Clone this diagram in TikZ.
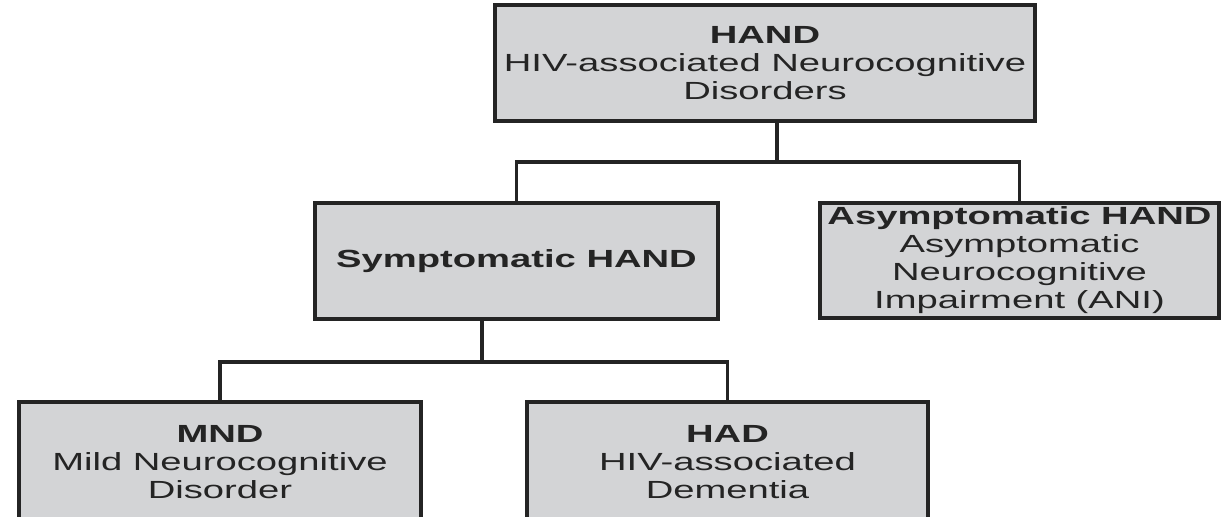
\documentclass[tikz,border=0pt]{standalone}
\usepackage{fontspec}
\setmainfont{Liberation Sans}[FakeStretch=1.54]
\usepackage{xcolor}
\definecolor{boxgray}{RGB}{211,212,214}
\definecolor{inkgray}{RGB}{36,36,36}

\begin{document}
\begin{tikzpicture}[
  x=0.5pt, y=-0.5pt,
  box/.style={draw=inkgray, line width=1.6pt, fill=boxgray, align=center, inner sep=0pt,
              text=inkgray, font=\fontsize{12.4}{14}\selectfont},
  link/.style={draw=inkgray, line width=1.6pt}
]
  \path[use as bounding box, clip] (0,0) rectangle (1229,516);

  \node[box, minimum width=270pt, minimum height=58pt] (hand) at (765,63)
    {\textbf{HAND}\\HIV-associated Neurocognitive\\Disorders};
  \node[box, minimum width=201.5pt, minimum height=58pt] (symp) at (516.5,261)
    {\textbf{Symptomatic HAND}};
  \node[box, minimum width=199.5pt, minimum height=57.5pt] (asym) at (1019.5,260.5)
    {\textbf{Asymptomatic HAND}\\Asymptomatic\\Neurocognitive\\Impairment (ANI)};
  \node[box, minimum width=201pt, minimum height=60pt] (mnd) at (220,462)
    {\textbf{MND}\\Mild Neurocognitive\\Disorder};
  \node[box, minimum width=200.5pt, minimum height=60pt] (had) at (727.5,462)
    {\textbf{HAD}\\HIV-associated\\Dementia};

  \coordinate (split1) at (777,162);
  \coordinate (split2) at (482,362);

  \draw[link] (hand.south -| split1) -- (split1);
  \draw[link] (symp.north) |- (split1) -| (asym.north);
  \draw[link] (symp.south -| split2) -- (split2);
  \draw[link] (mnd.north) |- (split2) -| (had.north);
\end{tikzpicture}
\end{document}
